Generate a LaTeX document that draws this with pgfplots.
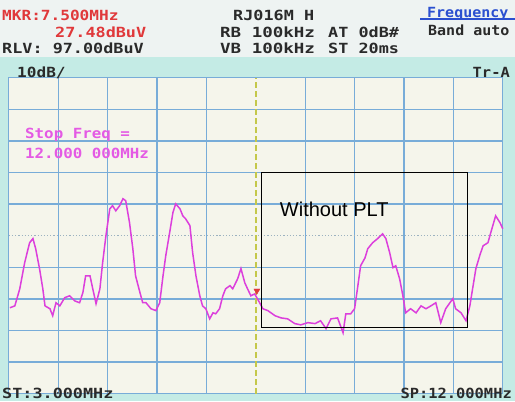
\documentclass[border=0pt]{standalone}
\usepackage{fontspec}
\usepackage{graphicx}
\usepackage{pgfplots}
\pgfplotsset{compat=1.18}
\newfontfamily\lcdfont{DejaVu Sans Mono}
\newfontfamily\boxfont{Liberation Sans}
\newcommand\lcd[2][1.2]{\scalebox{#1}[1]{\lcdfont\bfseries\fontsize{14bp}{16bp}\selectfont #2}}
\definecolor{outerbg}{HTML}{C4EBE5}
\definecolor{headbg}{HTML}{EEF3F2}
\definecolor{plotbg}{HTML}{F5F5EB}
\definecolor{gridblue}{HTML}{78ACD8}
\definecolor{trace}{HTML}{DC3FDC}
\definecolor{mkred}{HTML}{E0383A}
\definecolor{magtext}{HTML}{E45AE4}
\definecolor{freqblue}{HTML}{2B50D0}
\definecolor{centeryel}{HTML}{C4C84A}
\definecolor{dotgray}{HTML}{9CB2C0}
\definecolor{lcdtext}{HTML}{2A2A2A}
\begin{document}
\begin{tikzpicture}[x=1bp,y=1bp]
\useasboundingbox (0,0) rectangle (515,401);
\fill[outerbg] (0,0) rectangle (515,401);
\fill[headbg] (0,344) rectangle (515,401);
\begin{axis}[
  at={(16,23)}, anchor=south west,
  scale only axis, width=494bp, height=316bp,
  xmin=3, xmax=12, ymin=-3, ymax=97,
  xtick={3,3.9,4.8,5.7,6.6,8.4,9.3,10.2,11.1,12},
  ytick={-3,7,17,27,37,57,67,77,87,97},
  xticklabels={}, yticklabels={},
  major tick length=0,
  grid=major,
  grid style={gridblue, line width=1.3bp},
  axis line style={gridblue, line width=1.3bp},
  axis background/.style={fill=plotbg},
  clip=false,
]
\addplot[dotgray, line width=1.2bp, dotted] coordinates {(3,47) (12,47)};
\addplot[centeryel, line width=1.5bp, dash pattern=on 6bp off 3bp] coordinates {(7.5,-3) (7.5,97)};
\addplot[trace, line width=1.5bp] coordinates {
(3.02,24.2) (3.11,24.8) (3.20,30.2) (3.29,38.5) (3.38,44.8) (3.44,46.1) (3.49,42.9) (3.56,36.6) (3.62,30.2) (3.66,24.8) (3.75,23.9) (3.80,21.7) (3.86,25.8) (3.93,24.8) (4.02,27.4) (4.11,28.0) (4.20,26.4) (4.29,25.8) (4.35,29.0) (4.40,34.3) (4.48,34.3) (4.53,30.2) (4.59,25.5) (4.66,30.2) (4.71,38.5) (4.77,47.0) (4.84,55.5) (4.89,56.5) (4.95,54.9) (5.02,56.5) (5.08,58.7) (5.13,58.1) (5.20,51.1) (5.26,42.9) (5.31,34.3) (5.39,29.0) (5.44,25.8) (5.50,25.8) (5.59,23.9) (5.68,23.3) (5.75,25.8) (5.81,34.3) (5.86,40.7) (5.93,47.9) (5.99,54.3) (6.04,57.1) (6.12,55.5) (6.17,53.3) (6.22,52.4) (6.30,50.2) (6.35,41.6) (6.41,34.3) (6.48,28.0) (6.53,24.8) (6.59,23.9) (6.66,20.7) (6.72,22.6) (6.77,22.3) (6.84,23.9) (6.90,28.0) (6.95,30.2) (7.03,31.2) (7.08,30.2) (7.17,33.4) (7.23,36.6) (7.30,32.1) (7.35,30.2) (7.41,28.0) (7.48,28.6) (7.57,25.8) (7.63,23.9) (7.72,23.3) (7.85,21.7) (7.96,21.0) (8.08,20.7) (8.21,19.2) (8.32,18.8) (8.45,19.5) (8.58,19.2) (8.68,20.1) (8.78,17.6) (8.87,20.7) (8.99,21.0) (9.09,16.3) (9.14,22.3) (9.23,22.3) (9.30,23.9) (9.36,31.2) (9.41,37.5) (9.49,40.0) (9.54,42.9) (9.63,44.8) (9.72,46.1) (9.81,47.6) (9.87,46.1) (9.94,41.6) (10.00,36.9) (10.05,37.5) (10.12,33.4) (10.18,28.0) (10.23,22.6) (10.32,23.9) (10.42,22.6) (10.51,24.8) (10.60,23.9) (10.69,24.8) (10.78,25.8) (10.87,19.5) (10.96,23.9) (11.09,27.1) (11.14,23.9) (11.24,22.6) (11.33,20.1) (11.40,24.8) (11.45,30.2) (11.51,36.6) (11.58,40.7) (11.64,43.8) (11.73,44.8) (11.78,47.9) (11.87,53.3) (11.95,51.1) (12.00,49.2)
};
\addplot[only marks, mark=triangle*, mark size=3.5bp, mark options={rotate=180, fill=mkred, draw=mkred}] coordinates {(7.52,29.6)};
\draw[black, line width=1.2bp] (axis cs:7.61,66.9) rectangle (axis cs:11.36,17.9);
\node[font=\boxfont\fontsize{20bp}{22bp}\selectfont, inner sep=0] at (axis cs:8.93,55.5) {Without PLT};
\end{axis}
% header
\node[anchor=base west, inner sep=0, text=mkred] at (2,381) {\lcd[1.15]{MKR:7.500MHz}};
\node[anchor=base west, inner sep=0, text=mkred] at (55,364) {\lcd[1.2]{27.48dBuV}};
\node[anchor=base west, inner sep=0, text=lcdtext] at (2,348) {\lcd[1.2]{RLV: 97.00dBuV}};
\node[anchor=base west, inner sep=0, text=lcdtext] at (233,381) {\lcd[1.2]{RJ016M H}};
\node[anchor=base west, inner sep=0, text=lcdtext] at (220,364) {\lcd[1.25]{RB 100kHz}};
\node[anchor=base west, inner sep=0, text=lcdtext] at (328,364) {\lcd[1.2]{AT 0dB\#}};
\node[anchor=base west, inner sep=0, text=lcdtext] at (220,348) {\lcd[1.25]{VB 100kHz}};
\node[anchor=base west, inner sep=0, text=lcdtext] at (328,348) {\lcd[1.2]{ST 20ms}};
\node[anchor=base west, inner sep=0, text=freqblue] at (427,384) {\lcd[1.07]{Frequency}};
\draw[freqblue, line width=1.2bp] (420,382) -- (515,382);
\node[anchor=base west, inner sep=0, text=lcdtext] at (428,366) {\lcd[1.07]{Band auto}};
% in-plot labels
\node[anchor=base west, inner sep=0, text=lcdtext] at (17,324) {\lcd[1.15]{10dB/}};
\node[anchor=base east, inner sep=0, text=lcdtext] at (510,324) {\lcd[1.1]{Tr-A}};
\node[anchor=base west, inner sep=0, text=magtext] at (25,263) {\lcd[1.13]{Stop Freq =}};
\node[anchor=base west, inner sep=0, text=magtext] at (25,243) {\lcd[1.13]{12.000 000MHz}};
% footer
\node[anchor=base west, inner sep=0, text=lcdtext] at (2,3) {\lcd[1.2]{ST:3.000MHz}};
\node[anchor=base east, inner sep=0, text=lcdtext] at (512,3) {\lcd[1.1]{SP:12.000MHz}};
\end{tikzpicture}
\end{document}
